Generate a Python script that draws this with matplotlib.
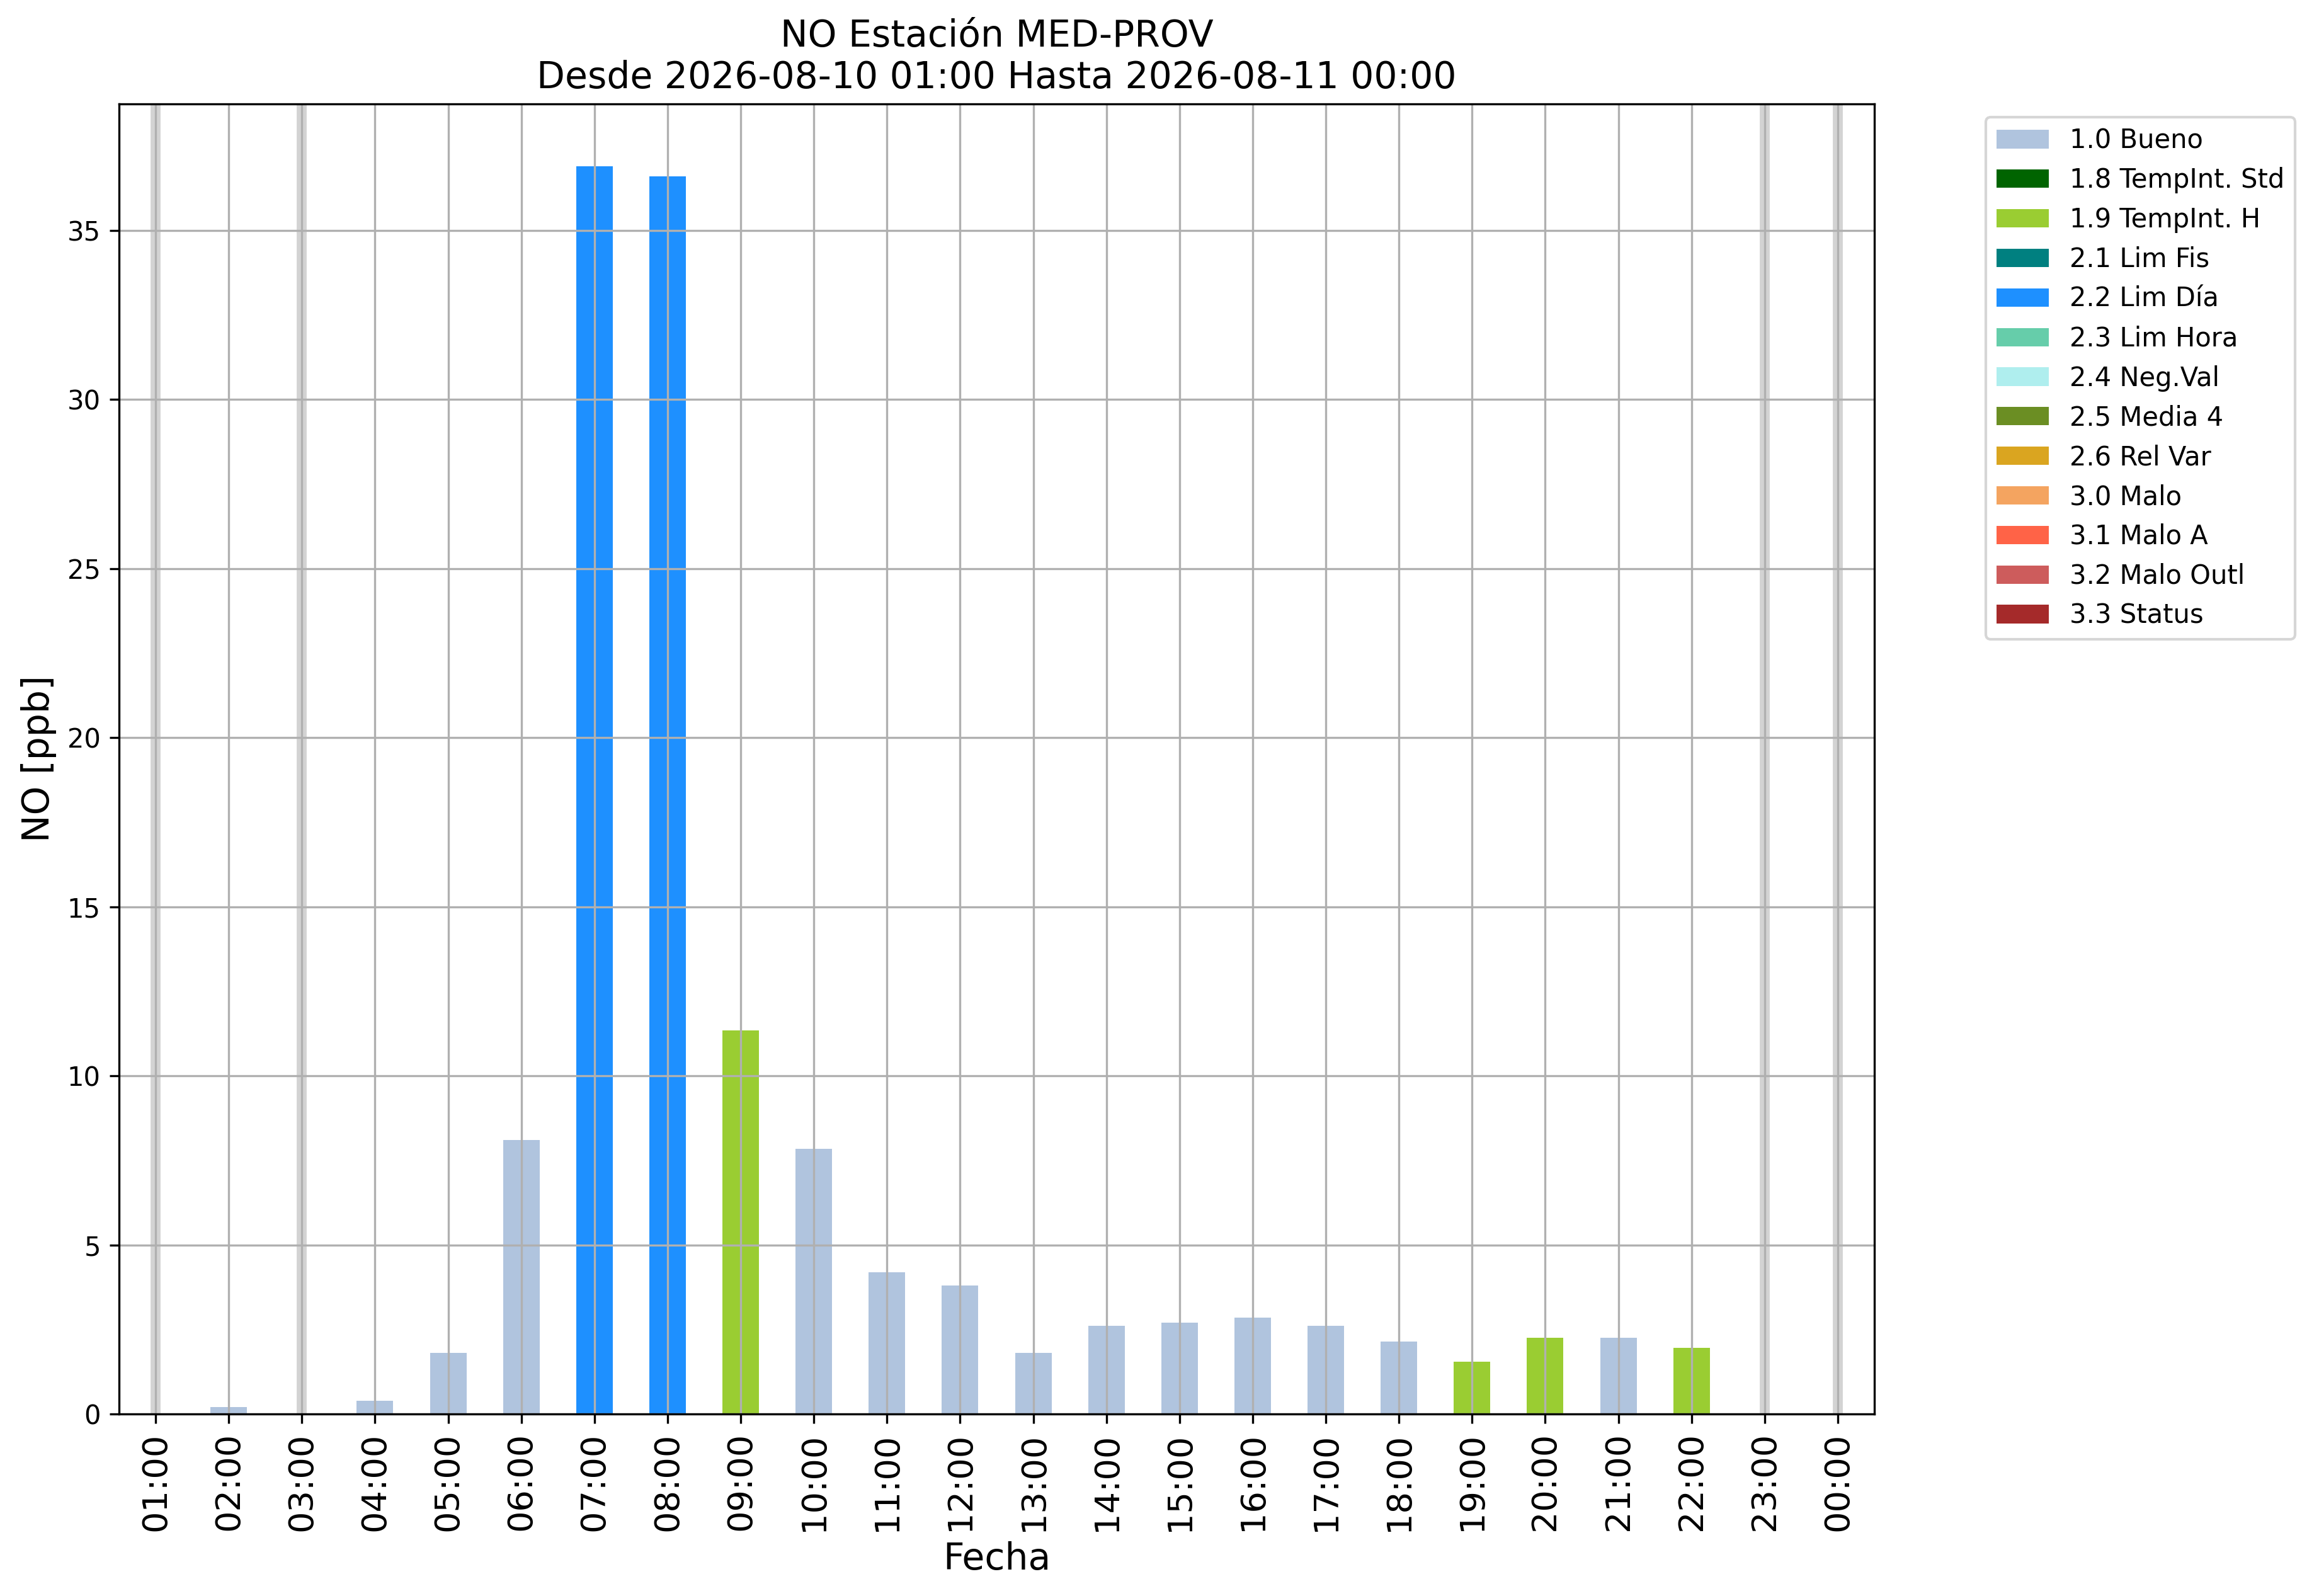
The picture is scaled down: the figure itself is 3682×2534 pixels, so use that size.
import numpy as np
import matplotlib
matplotlib.use("Agg")
import matplotlib.pyplot as plt
from matplotlib.patches import Patch

# ---- data ----
hours = ["01:00", "02:00", "03:00", "04:00", "05:00", "06:00", "07:00", "08:00",
         "09:00", "10:00", "11:00", "12:00", "13:00", "14:00", "15:00", "16:00",
         "17:00", "18:00", "19:00", "20:00", "21:00", "22:00", "23:00", "00:00"]
values = [np.nan, 0.2, np.nan, 0.4, 1.8, 8.1, 36.9, 36.6,
          11.35, 7.85, 4.2, 3.8, 1.8, 2.6, 2.7, 2.85,
          2.6, 2.15, 1.55, 2.25, 2.25, 1.95, np.nan, np.nan]
flags = ["1.0", "1.0", "1.0", "1.0", "1.0", "1.0", "2.2", "2.2",
         "1.9", "1.0", "1.0", "1.0", "1.0", "1.0", "1.0", "1.0",
         "1.0", "1.0", "1.9", "1.9", "1.0", "1.9", "1.0", "1.0"]
missing = ["01:00", "03:00", "23:00", "00:00"]

flag_codes = ["1.0", "1.8", "1.9", "2.1", "2.2", "2.3", "2.4", "2.5", "2.6",
              "3.0", "3.1", "3.2", "3.3"]
flag_names = ["1.0 Bueno", "1.8 TempInt. Std", "1.9 TempInt. H", "2.1 Lim Fis",
              "2.2 Lim Día", "2.3 Lim Hora", "2.4 Neg.Val", "2.5 Media 4",
              "2.6 Rel Var", "3.0 Malo", "3.1 Malo A", "3.2 Malo Outl", "3.3 Status"]
flag_colors = ["lightsteelblue", "darkgreen", "yellowgreen", "teal", "dodgerblue",
               "mediumaquamarine", "paleturquoise", "olivedrab", "goldenrod",
               "sandybrown", "tomato", "indianred", "brown"]

title = "NO Estación MED-PROV\nDesde 2026-08-10 01:00 Hasta 2026-08-11 00:00"

# ---- plot ----
W, H, DPI = 3682, 2534, 300
fig = plt.figure(figsize=(W / DPI, H / DPI), dpi=DPI)
ax = fig.add_subplot(111)
fig.subplots_adjust(left=189 / W, right=2976 / W, top=1 - 165 / H, bottom=1 - 2245 / H)

cmap = dict(zip(flag_codes, flag_colors))
x = np.arange(len(hours))
ax.bar(x, values, width=0.5, color=[cmap[f] for f in flags], zorder=1)

for h in missing:
    ax.axvline(hours.index(h), color="lightgray", linewidth=3.8, zorder=0.9)

ax.set_xticks(x)
ax.set_xticklabels(hours, rotation=90, fontsize=13)
ax.tick_params(axis="y", labelsize=10)
ax.set_xlim(-0.5, len(hours) - 0.5)
ax.grid(True)

ax.set_xlabel("Fecha", fontsize=14)
ax.set_ylabel("NO [ppb]", fontsize=14)
ax.set_title(title, fontsize=14)

handles = [Patch(facecolor=c, label=n) for c, n in zip(flag_colors, flag_names)]
ax.legend(handles=handles, loc="upper left", bbox_to_anchor=(1.056, 1), fontsize=10)

fig.savefig("out.png", dpi=DPI)
